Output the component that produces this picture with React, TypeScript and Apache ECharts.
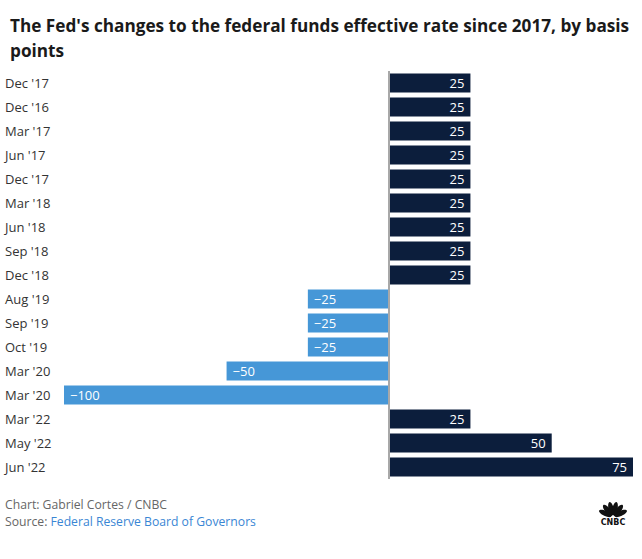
import React, { useEffect, useRef } from "react";
import * as echarts from "echarts";

const categories = [
  "Dec '17", "Dec '16", "Mar '17", "Jun '17", "Dec '17", "Mar '18", "Jun '18", "Sep '18", "Dec '18",
  "Aug '19", "Sep '19", "Oct '19", "Mar '20", "Mar '20", "Mar '22", "May '22", "Jun '22",
];
const changes = [25, 25, 25, 25, 25, 25, 25, 25, 25, -25, -25, -25, -50, -100, 25, 50, 75];
const axisMin = -100;
const axisMax = 75;

const titleText = "The Fed's changes to the federal funds effective rate since 2017, by basis\npoints";
const creditText = "Chart: Gabriel Cortes / CNBC";
const sourceLabel = "Source: ";
const sourceName = "Federal Reserve Board of Governors";

const FONT = "'Open Sans', sans-serif";
const POS = "#0c1e3c";
const NEG = "#4697d7";

function fmt(v: number) {
  return v < 0 ? "\u2212" + Math.abs(v) : String(v);
}

export default function App() {
  const ref = useRef<HTMLDivElement>(null);
  useEffect(() => {
    if (!ref.current) return;
    const chart = echarts.init(ref.current, null, { renderer: "svg" });
    const featherAngles = [-65, -39, -13, 13, 39, 65];
    const feathers = featherAngles.map((deg) => {
      const a = (deg * Math.PI) / 180;
      return {
        type: "ellipse",
        x: 8.5 * Math.sin(a),
        y: -8.5 * Math.cos(a),
        rotation: -a,
        shape: { cx: 0, cy: 0, rx: 2.6, ry: 6.8 },
        style: { fill: "#111" },
      };
    });
    chart.setOption({
      animation: false,
      title: {
        text: titleText,
        left: 5,
        top: 8,
        textStyle: { fontFamily: FONT, fontSize: 17.2, fontWeight: "bold", color: "#1a1a1a", lineHeight: 25 },
      },
      grid: { left: 64, right: 9, top: 71, bottom: 80, containLabel: false },
      xAxis: {
        type: "value",
        min: axisMin,
        max: axisMax,
        show: false,
        splitLine: { show: false },
      },
      yAxis: {
        type: "category",
        inverse: true,
        data: categories,
        axisLine: { show: false },
        axisTick: { show: false },
        axisLabel: {
          align: "left",
          margin: 59,
          fontFamily: FONT,
          fontSize: 13,
          color: "#333",
        },
      },
      series: [
        {
          type: "bar",
          barWidth: 19,
          data: changes.map((v) => ({
            value: v,
            itemStyle: { color: v < 0 ? NEG : POS },
            label: { position: v < 0 ? "insideLeft" : "insideRight" },
          })),
          label: {
            show: true,
            distance: 6,
            color: "#fff",
            fontFamily: FONT,
            fontSize: 13,
            formatter: (p: any) => fmt(p.value),
          },
          markLine: {
            silent: true,
            symbol: "none",
            label: { show: false },
            lineStyle: { color: "#a8a8a8", width: 2, type: "solid" },
            data: [{ xAxis: 0 }],
          },
        },
      ],
      graphic: [
        {
          type: "text",
          left: 5,
          top: 498,
          style: { text: creditText, fontFamily: FONT, fontSize: 12.2, fill: "#666" },
        },
        {
          type: "text",
          left: 5,
          top: 515,
          style: {
            text: "{a|" + sourceLabel + "}{b|" + sourceName + "}",
            fontFamily: FONT,
            fontSize: 12.2,
            rich: {
              a: { fontFamily: FONT, fontSize: 12.2, fill: "#666", color: "#666" },
              b: { fontFamily: FONT, fontSize: 12.2, fill: "#3a86d4", color: "#3a86d4" },
            },
          },
        },
        {
          type: "group",
          x: 613,
          y: 517,
          children: [
            ...feathers,
            {
              type: "text",
              x: 0,
              y: 5.5,
              style: {
                text: "CNBC",
                fontFamily: "'DejaVu Sans', sans-serif",
                fontWeight: "bold",
                fontSize: 8,
                fill: "#111",
                align: "center",
                verticalAlign: "middle",
              },
            },
          ],
        },
      ],
    });
    return () => chart.dispose();
  }, []);
  return (
    <div
      ref={ref}
      style={{ position: "absolute", left: 0, top: 0, width: 642, height: 559, background: "#fff" }}
    />
  );
}
